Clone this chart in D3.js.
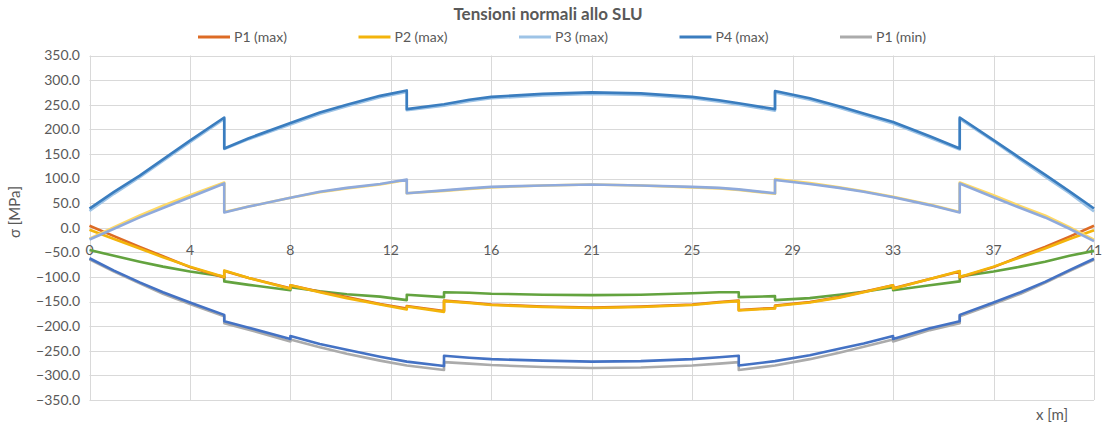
<html>
<head>
<meta charset="utf-8">
<script src="https://cdn.jsdelivr.net/npm/d3@7/dist/d3.min.js"></script>
<style>
  body { margin: 0; background: #fff; }
  text { font-family: Lato, "Open Sans", sans-serif; fill: #595959; }
</style>
</head>
<body>
<svg width="1104" height="430" id="chart"></svg>
<script>
// x positions [m] (repeated x = jump in the diagram)
var xs = [0, 1, 2.05, 3, 4.1, 5.5, 5.5, 6.5, 8.2, 8.2, 9.4, 10.5, 11.86, 12.95, 12.95, 14.47, 14.47,
  15.5, 16.4, 18.5, 20.5, 22.5, 24.6, 25.7, 26.5, 26.5, 27.98, 27.98, 29.4, 30.6, 31.6, 32.8, 32.8,
  34.3, 35.52, 35.52, 36.9, 38, 39, 40, 41];

// sigma [MPa]
var p1max = [4, -17, -39, -58, -80, -101, -88, -102, -123, -117, -130, -141, -155, -164, -159, -169, -148,
  -152, -156, -160, -162, -160, -156, -151, -148, -167, -163, -158, -151, -141, -130, -117, -123,
  -104, -89, -101, -80, -58, -39, -18, 4];
var p2max = [-4, -23, -42, -60, -79, -100, -87, -102, -124, -117, -131, -143, -156, -166, -160, -171, -149,
  -153, -157, -161, -163, -161, -157, -152, -149, -168, -164, -159, -152, -142, -131, -117, -124,
  -104, -88, -100, -79, -60, -42, -23, -5];
var p3max = [34, 69, 103, 136, 174, 221, 160, 180, 210, 210, 231, 247, 265, 276, 239, 248, 248,
  257, 263, 269, 272, 270, 263, 256, 250, 250, 238, 275, 260, 244, 229, 212, 212,
  183, 159, 221, 176, 138, 104, 70, 33];
var p4max = [39, 73, 106, 139, 177, 224, 161, 182, 213, 213, 234, 250, 268, 279, 241, 251, 251,
  260, 266, 272, 275, 273, 266, 259, 253, 253, 241, 278, 263, 247, 232, 215, 215,
  186, 161, 224, 178, 141, 108, 74, 39];
var p1min = [-64, -89, -113, -134, -155, -180, -194, -207, -231, -227, -243, -256, -270, -280, -280, -289, -273,
  -276, -279, -283, -285, -284, -280, -276, -273, -289, -280, -280, -267, -254, -242, -227, -231,
  -208, -194, -180, -155, -134, -112, -88, -65];
var p2min = [-62, -87, -111, -131, -152, -177, -190, -203, -226, -220, -236, -248, -262, -272, -272, -281, -260,
  -264, -267, -270, -272, -271, -267, -263, -260, -280, -271, -271, -259, -246, -235, -220, -226,
  -204, -190, -177, -152, -131, -110, -86, -63];
var p3min = [-22, 1, 25, 45, 66, 92, 32, 43, 61, 61, 72, 80, 88, 97, 70, 75, 75,
  79, 82, 86, 88, 86, 82, 80, 77, 77, 69, 99, 91, 82, 74, 63, 63,
  47, 32, 92, 66, 44, 25, 1, -24];
var p4min = [-24, -2, 21, 40, 62, 90, 31, 43, 61, 61, 73, 81, 89, 98, 70, 76, 76,
  80, 83, 86, 88, 86, 83, 81, 78, 78, 70, 97, 89, 81, 73, 62, 62,
  46, 31, 90, 62, 40, 21, -2, -27];
var extra = [-45, -57, -69, -79, -89, -99, -109, -116, -127, -121, -129, -135, -140, -147, -136, -141, -131,
  -132, -134, -136, -137, -136, -133, -131, -131, -141, -139, -147, -143, -136, -130, -121, -127,
  -117, -109, -99, -89, -79, -69, -57, -47];

var xTicks = [0, 4.1, 8.2, 12.3, 16.4, 20.5, 24.6, 28.7, 32.8, 36.9, 41];
var xTickLabels = ["0", "4", "8", "12", "16", "21", "25", "29", "33", "37", "41"];
var yTicks = [-350, -300, -250, -200, -150, -100, -50, 0, 50, 100, 150, 200, 250, 300, 350];

var legendNames = ["P1 (max)", "P2 (max)", "P3 (max)", "P4 (max)", "P1 (min)"];

// draw order: first is at the bottom
var series = [
  { name: "extra", values: extra, color: "#63A33F" },
  { name: "P1 (max)", values: p1max, color: "#DD6B25" },
  { name: "P2 (max)", values: p2max, color: "#F3B40B" },
  { name: "P3 (max)", values: p3max, color: "#9DC3E6" },
  { name: "P4 (max)", values: p4max, color: "#3A7DBF" },
  { name: "P1 (min)", values: p1min, color: "#ABABAB" },
  { name: "P2 (min)", values: p2min, color: "#4472C4" },
  { name: "P3 (min)", values: p3min, color: "#FFD966" },
  { name: "P4 (min)", values: p4min, color: "#8FAADC" }
];

var svg = d3.select("#chart"),
    width = +svg.attr("width"),
    height = +svg.attr("height");

var x = d3.scaleLinear().domain([0, 41]).range([89.5, 1094]);
var y = d3.scaleLinear().domain([-350, 350]).range([400, 55.5]);

svg.append("rect").attr("width", width).attr("height", height).attr("fill", "#fff");

// grid
var grid = svg.append("g").attr("stroke", "#D9D9D9").attr("stroke-width", 1);
grid.selectAll("line.h").data(yTicks).enter().append("line")
  .attr("x1", x(0)).attr("x2", x(41))
  .attr("y1", function(d) { return Math.round(y(d)) + 0.5; })
  .attr("y2", function(d) { return Math.round(y(d)) + 0.5; });
grid.selectAll("line.v").data(xTicks).enter().append("line")
  .attr("y1", y(350)).attr("y2", y(-350))
  .attr("x1", function(d) { return Math.round(x(d)) + 0.5; })
  .attr("x2", function(d) { return Math.round(x(d)) + 0.5; });

// y tick labels
svg.append("g").selectAll("text").data(yTicks).enter().append("text")
  .attr("x", 80)
  .attr("y", function(d) { return y(d); })
  .attr("dy", "0.35em")
  .attr("text-anchor", "end")
  .style("font-size", "14px")
  .text(function(d) { return d3.format(".1f")(d); });

// x tick labels (axis crosses at 0)
svg.append("g").selectAll("text").data(xTicks).enter().append("text")
  .attr("x", function(d) { return x(d); })
  .attr("y", y(0) + 27)
  .attr("text-anchor", "middle")
  .style("font-size", "14px")
  .text(function(d, i) { return xTickLabels[i]; });

// lines
var line = d3.line()
  .x(function(d, i) { return x(xs[i]); })
  .y(function(d) { return y(d); });

svg.append("g").selectAll("path").data(series).enter().append("path")
  .attr("d", function(d) { return line(d.values); })
  .attr("fill", "none")
  .attr("stroke", function(d) { return d.color; })
  .attr("stroke-width", 2.6)
  .attr("stroke-linejoin", "round");

// titles
svg.append("text")
  .attr("x", 548).attr("y", 20)
  .attr("text-anchor", "middle")
  .style("font-size", "17px").style("font-weight", "bold")
  .text("Tensioni normali allo SLU");

svg.append("text")
  .attr("transform", "translate(20,212) rotate(-90)")
  .attr("text-anchor", "middle")
  .style("font-size", "15px")
  .text("σ [MPa]");

svg.append("text")
  .attr("x", 1052).attr("y", 420)
  .attr("text-anchor", "middle")
  .style("font-size", "15px")
  .text("x [m]");

// legend (only the first five series fit)
var legend = svg.append("g").selectAll("g")
  .data(legendNames).enter().append("g")
  .attr("transform", function(d, i) { return "translate(" + (198 + i * 160.5) + ",37)"; });

legend.append("line")
  .attr("x1", 0).attr("x2", 32)
  .attr("stroke-width", 3)
  .attr("stroke", function(d) {
    return series.filter(function(s) { return s.name === d; })[0].color;
  });

legend.append("text")
  .attr("x", 36).attr("dy", "0.35em")
  .style("font-size", "14px")
  .text(function(d) { return d; });
</script>
</body>
</html>
